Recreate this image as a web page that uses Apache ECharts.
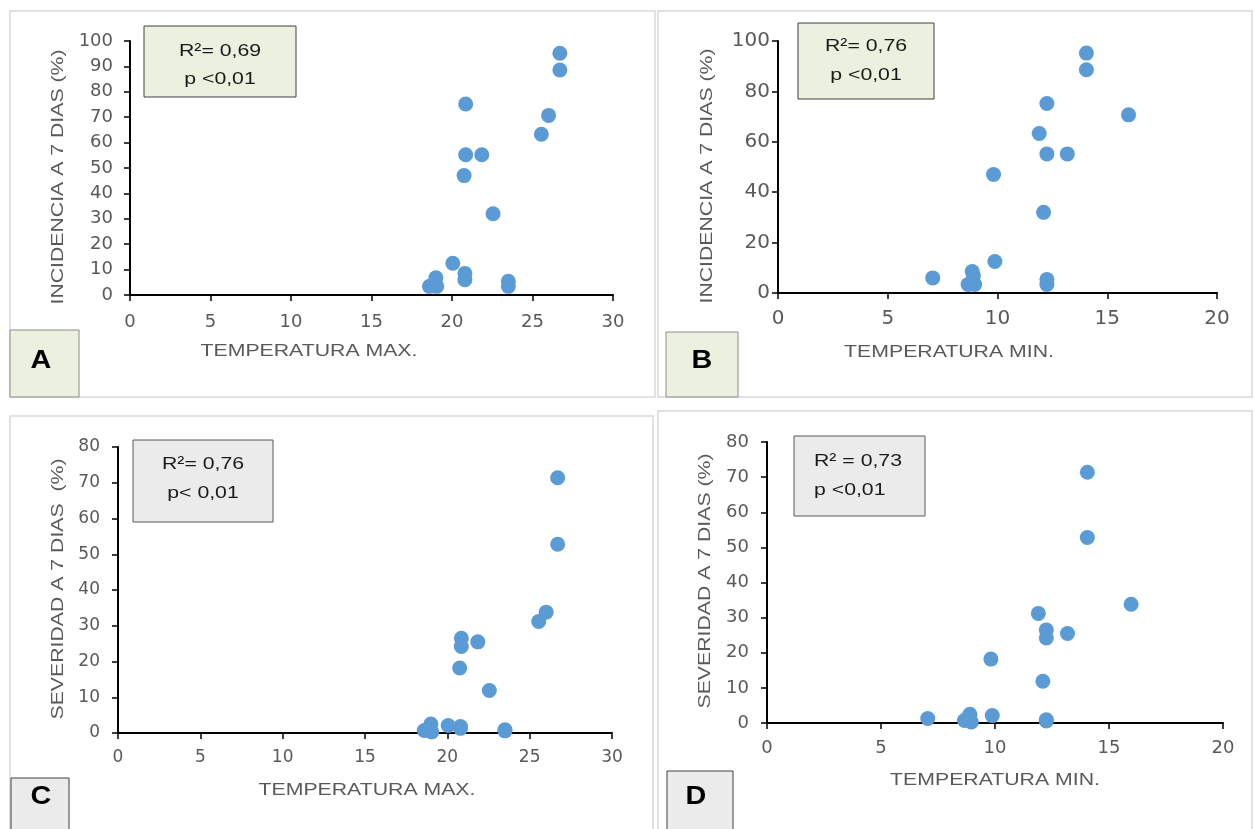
<!DOCTYPE html>
<html>
<head>
<meta charset="utf-8">
<script src="https://cdn.jsdelivr.net/npm/echarts@6/dist/echarts.min.js"></script>
<style>
  html, body { margin: 0; padding: 0; background: #fff; }
  #chart { width: 1254px; height: 829px; }
</style>
</head>
<body>
<div id="chart"></div>
<script>
  // observaciones (mismo orden en todas las listas)
  var tempMax = [26.7, 26.7, 20.85, 26.0, 25.55, 20.85, 21.85, 20.75, 22.55, 20.05, 20.8, 20.8, 19.0, 18.6, 19.05, 23.5, 23.5];
  var tempMin = [14.05, 14.05, 12.25, 15.97, 11.9, 12.25, 13.18, 9.82, 12.1, 9.88, 8.85, 7.05, 8.9, 8.66, 8.96, 12.25, 12.25];
  var incidencia = [95.2, 88.6, 75.2, 70.7, 63.3, 55.2, 55.2, 47.0, 32.0, 12.5, 8.5, 6.0, 6.8, 3.4, 3.4, 5.4, 3.4];
  var severidad = [71.4, 52.8, 26.5, 33.8, 31.2, 24.2, 25.5, 18.2, 11.9, 2.1, 1.8, 1.3, 2.5, 0.7, 0.3, 0.9, 0.6];

  var panelLetters = ['A', 'B', 'C', 'D'];
  var statTexts = [
    ['R\u00b2= 0,69', 'p <0,01'],
    ['R\u00b2= 0,76', 'p <0,01'],
    ['R\u00b2= 0,76', 'p< 0,01'],
    ['R\u00b2 = 0,73', 'p <0,01']
  ];
  var xTitles = ['TEMPERATURA MAX.', 'TEMPERATURA MIN.', 'TEMPERATURA MAX.', 'TEMPERATURA MIN.'];
  var yTitles = ['INCIDENCIA A 7 DIAS (%)', 'INCIDENCIA A 7 DIAS (%)', 'SEVERIDAD A 7 DIAS  (%)', 'SEVERIDAD A 7 DIAS (%)'];
  var xMax = [30, 20, 30, 20];
  var yMax = [100, 100, 80, 80];
  var yStep = [10, 20, 10, 10];

  var BLUE = '#5b9bd5';
  var GREEN_FILL = '#ebf1de';
  var GRAY_FILL = '#ebebeb';
  var TEXT_GRAY = '#595959';
  var FONT = '"Liberation Sans", Arial, sans-serif';

  var grids = [
    {left: 130, top: 41, width: 483, height: 254},
    {left: 778, top: 41, width: 439, height: 252},
    {left: 118, top: 447, width: 494, height: 286},
    {left: 767, top: 442, width: 456, height: 281}
  ];
  var labelFont = [18, 20, 17, 18];
  var yLabelMargin = [17, 8, 18, 18];
  var xLabelMargin = [18, 16, 16, 16];

  function pairs(xs, ys) {
    return xs.map(function (x, i) { return [x, ys[i]]; });
  }
  var seriesData = [
    pairs(tempMax, incidencia),
    pairs(tempMin, incidencia),
    pairs(tempMax, severidad),
    pairs(tempMin, severidad)
  ];

  function axisBase(i) {
    return {
      type: 'value',
      gridIndex: i,
      min: 0,
      splitLine: {show: false},
      axisLine: {show: true, onZero: false, lineStyle: {color: '#000', width: 2}},
      axisTick: {show: true, inside: false, length: 6, lineStyle: {color: '#000', width: 1.5}},
      axisLabel: {color: TEXT_GRAY, fontFamily: '"DejaVu Sans", sans-serif', fontSize: labelFont[i]}
    };
  }

  var xAxes = [], yAxes = [], series = [];
  for (var i = 0; i < 4; i++) {
    var xa = axisBase(i);
    xa.max = xMax[i];
    xa.interval = 5;
    xa.axisLabel.margin = xLabelMargin[i];
    xAxes.push(xa);
    var ya = axisBase(i);
    ya.max = yMax[i];
    ya.interval = yStep[i];
    ya.axisLabel.margin = yLabelMargin[i];
    yAxes.push(ya);
    series.push({
      type: 'scatter',
      xAxisIndex: i,
      yAxisIndex: i,
      symbol: 'circle',
      symbolSize: 15,
      itemStyle: {color: BLUE, opacity: 1},
      data: seriesData[i],
      z: 3
    });
  }

  function rect(x, y, w, h, fill, stroke, lw, z) {
    return {type: 'rect', shape: {x: x, y: y, width: w, height: h}, z: z,
      style: {fill: fill, stroke: stroke, lineWidth: lw}};
  }
  function txt(str, x, y, opts) {
    opts = opts || {};
    return {
      type: 'text', x: x, y: y, z: 10,
      scaleX: opts.scaleX || 1.25,
      rotation: opts.rotation || 0,
      style: {
        text: str,
        font: (opts.weight || 'normal') + ' ' + (opts.size || 17) + 'px ' + FONT,
        fill: opts.color || TEXT_GRAY,
        textAlign: opts.align || 'center',
        textVerticalAlign: 'middle',
        align: opts.align || 'center',
        verticalAlign: 'middle'
      }
    };
  }

  var graphics = [
    // marcos de los paneles
    rect(10, 11, 645, 386, 'none', '#d9d9d9', 1.5, 0),
    rect(658, 11, 594, 386, 'none', '#d9d9d9', 1.5, 0),
    rect(10, 416, 643, 420, 'none', '#d9d9d9', 1.5, 0),
    rect(658, 411, 594, 425, 'none', '#d9d9d9', 1.5, 0),
    // cuadros de letra
    rect(10, 330, 69, 67, GREEN_FILL, '#8c8c8c', 1, 5),
    rect(666, 332, 72, 65, GREEN_FILL, '#8c8c8c', 1, 5),
    rect(11, 778, 58, 60, GRAY_FILL, '#404040', 1, 5),
    rect(667, 771, 66, 65, GRAY_FILL, '#404040', 1, 5),
    // cuadros R2
    rect(144, 26, 152, 71, GREEN_FILL, '#404040', 1, 5),
    rect(798, 23, 136, 76, GREEN_FILL, '#404040', 1, 5),
    rect(133, 440, 140, 82, GRAY_FILL, '#595959', 1, 5),
    rect(794, 436, 131, 80, GRAY_FILL, '#595959', 1, 5)
  ];

  var letterPos = [[41, 361], [702, 361], [41, 797], [696, 797]];
  var statPos = [
    {x: 220, y1: 51, y2: 79, align: 'center'},
    {x: 866, y1: 46, y2: 75, align: 'center'},
    {x: 203, y1: 464, y2: 493, align: 'center'},
    {x: 814, y1: 461, y2: 490, align: 'left'}
  ];
  var xTitlePos = [[309, 351], [949, 352], [367, 790], [995, 780]];
  var yTitlePos = [[58, 177], [707, 176], [58, 589], [705, 581]];

  for (var k = 0; k < 4; k++) {
    graphics.push(txt(panelLetters[k], letterPos[k][0], letterPos[k][1],
      {size: 25, weight: 'bold', color: '#000', scaleX: 1.15}));
    graphics.push(txt(statTexts[k][0], statPos[k].x, statPos[k].y1, {color: '#1a1a1a', align: statPos[k].align}));
    graphics.push(txt(statTexts[k][1], statPos[k].x, statPos[k].y2, {color: '#1a1a1a', align: statPos[k].align}));
    graphics.push(txt(xTitles[k], xTitlePos[k][0], xTitlePos[k][1]));
    graphics.push(txt(yTitles[k], yTitlePos[k][0], yTitlePos[k][1], {rotation: Math.PI / 2}));
  }

  var chart = echarts.init(document.getElementById('chart'), null, {renderer: 'canvas'});
  chart.setOption({
    animation: false,
    backgroundColor: '#fff',
    grid: grids,
    xAxis: xAxes,
    yAxis: yAxes,
    series: series,
    graphic: {elements: graphics}
  });
</script>
</body>
</html>
